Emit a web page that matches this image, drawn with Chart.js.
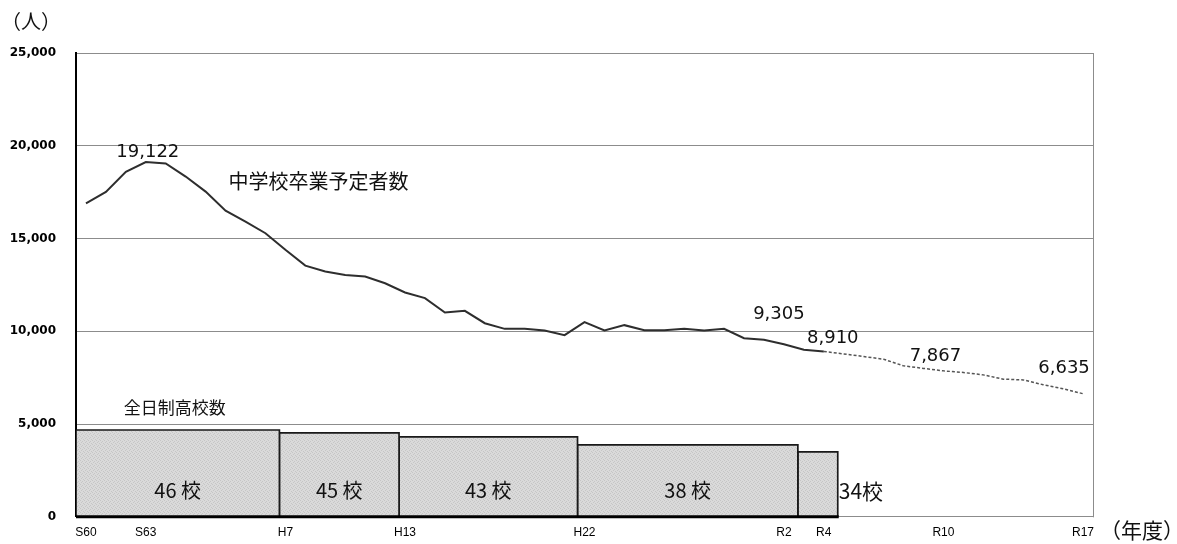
<!DOCTYPE html>
<html>
<head>
<meta charset="utf-8">
<script src="https://cdn.jsdelivr.net/npm/chart.js@4/dist/chart.umd.min.js"></script>
<style>
html,body{margin:0;padding:0;background:#fff}
#wrap{width:1177px;height:544px;position:relative}
</style>
</head>
<body>
<div id="wrap"><canvas id="chart"></canvas></div>
<script>
// graduates (actual), S60..R4
const actualStart = 1985;
const actualValues = [16900,17510,18600,19122,19050,18340,17530,16500,15910,15285,
  14390,13540,13220,13040,12950,12590,12090,11790,11010,11100,
  10435,10130,10130,10040,9790,10490,10040,10330,10060,10060,
  10130,10040,10130,9630,9540,9305,9000,8910];
// graduates (projection), R4..R17
const projStart = 2022;
const projValues = [8910,8780,8640,8495,8135,8000,7867,7780,7650,7420,7380,7120,6900,6635];

// full-time high schools: count, period and drawn value
const schoolCounts = [46,45,43,38,34];
const schoolFrom = [1984.5,1994.7,2000.7,2009.65,2020.7];
const schoolTo = [1994.7,2000.7,2009.65,2020.7,2022.7];
const schoolValues = [4680,4520,4310,3880,3500];

// x ticks
const tickYears = [1985,1988,1995,2001,2010,2020,2022,2028,2035];
const tickLabels = ['S60','S63','H7','H13','H22','R2','R4','R10','R17'];

// labelled points
const labelYears = [1988,2020,2022,2028,2035];

const allYears = {};
actualValues.forEach((v,i)=>{allYears[actualStart+i]=v;});
projValues.forEach((v,i)=>{allYears[projStart+i]=v;});

const fmt = v => v.toLocaleString('en-US');

// speckled grey fill like the original
function speckle(){
  const c = document.createElement('canvas');
  c.width = 4; c.height = 4;
  const g = c.getContext('2d');
  g.fillStyle = '#dadada'; g.fillRect(0,0,4,4);
  g.fillStyle = '#c6c6c6';
  g.fillRect(0,0,1,1); g.fillRect(2,1,1,1); g.fillRect(1,2,1,1); g.fillRect(3,3,1,1);
  return g.createPattern(c,'repeat');
}
const pat = speckle();

const barSets = schoolCounts.map((n,i)=>({
  label:'school'+n,
  data:[{x:schoolFrom[i],y:0},{x:schoolFrom[i],y:schoolValues[i]},{x:schoolTo[i],y:schoolValues[i]},{x:schoolTo[i],y:0}],
  borderColor:'#1a1a1a',borderWidth:1.7,backgroundColor:pat,fill:'origin',
  pointRadius:0,tension:0,order:3
}));

const datasets = [
  {label:'actual',data:actualValues.map((v,i)=>({x:actualStart+i,y:v})),
   borderColor:'#2e2e2e',borderWidth:2,pointRadius:0,tension:0,fill:false,order:1},
  {label:'proj',data:projValues.map((v,i)=>({x:projStart+i,y:v})),
   borderColor:'#555',borderWidth:1.5,borderDash:[3,2],pointRadius:0,tension:0,fill:false,order:1},
  ...barSets
];

const annot = {
  id:'annot',
  afterDraw(chart){
    const {ctx,chartArea:a,scales:{x,y}} = chart;
    ctx.save();
    // right frame line
    ctx.strokeStyle = '#8c8c8c'; ctx.lineWidth = 1;
    ctx.beginPath(); ctx.moveTo(a.right+0.5,a.top); ctx.lineTo(a.right+0.5,a.bottom+0.5); ctx.stroke();
    // thick base under the school blocks
    ctx.strokeStyle = '#000'; ctx.lineWidth = 3;
    ctx.beginPath();
    ctx.moveTo(x.getPixelForValue(schoolFrom[0]), a.bottom);
    ctx.lineTo(x.getPixelForValue(schoolTo[schoolTo.length-1])+1, a.bottom);
    ctx.stroke();

    ctx.fillStyle = '#111';
    ctx.textAlign = 'center'; ctx.textBaseline = 'middle';
    // value labels
    const off = {1988:[2,-10],2020:[-5,-30],2022:[9,-13],2028:[-8,-15],2035:[-19,-25]};
    ctx.font = '18px "DejaVu Sans"';
    labelYears.forEach(yr=>{
      const v = allYears[yr];
      ctx.fillText(fmt(v), x.getPixelForValue(yr)+off[yr][0], y.getPixelForValue(v)+off[yr][1]);
    });
    // school labels
    ctx.font = '20px "Noto Sans CJK JP"';
    schoolCounts.forEach((n,i)=>{
      const yy = y.getPixelForValue(1400);
      if(i===schoolCounts.length-1){
        ctx.textAlign = 'left';
        ctx.font = '21px "Noto Sans CJK JP"';
        ctx.fillText(n+'校', x.getPixelForValue(schoolTo[i])+1, yy);
      } else {
        ctx.textAlign = 'center';
        ctx.fillText(n+' 校', x.getPixelForValue((schoolFrom[i]+schoolTo[i])/2), yy);
      }
    });
    // series names
    ctx.textAlign = 'left';
    ctx.font = '20px "Noto Sans CJK JP"';
    ctx.fillText('中学校卒業予定者数', x.getPixelForValue(1992.15), y.getPixelForValue(18100));
    ctx.font = '17px "Noto Sans CJK JP"';
    ctx.fillText('全日制高校数', x.getPixelForValue(1986.9), y.getPixelForValue(5900));
    // unit labels
    ctx.font = '20px "Noto Sans CJK JP"';
    ctx.fillText('（人）', 1, 21);
    ctx.font = '21px "Noto Sans CJK JP"';
    ctx.fillText('（年度）', a.right+7, a.bottom+13);
    ctx.restore();
  }
};

new Chart(document.getElementById('chart'),{
  type:'line',
  data:{datasets},
  options:{
    responsive:true,maintainAspectRatio:false,animation:false,
    layout:{padding:{top:53,right:84,left:0,bottom:0}},
    plugins:{legend:{display:false},tooltip:{enabled:false}},
    scales:{
      x:{type:'linear',min:1984.5,max:2035.5,
        afterFit:s=>{s.height=27;},
        afterBuildTicks:s=>{s.ticks=tickYears.map(v=>({value:v}));},
        grid:{display:false,drawTicks:false},
        border:{color:'#8c8c8c',width:1},
        ticks:{autoSkip:false,maxRotation:0,padding:9,color:'#000',
          font:{family:'Liberation Sans',size:12},
          callback:v=>tickLabels[tickYears.indexOf(v)]}
      },
      y:{min:0,max:25000,
        afterFit:s=>{s.width=76;},
        grid:{color:'#8c8c8c',lineWidth:1,drawTicks:false},
        border:{color:'#000',width:2},
        ticks:{stepSize:5000,padding:20,color:'#000',
          font:{family:'DejaVu Sans',size:12,weight:'bold'},
          callback:v=>fmt(v)}
      }
    }
  },
  plugins:[annot]
});
</script>
</body>
</html>
